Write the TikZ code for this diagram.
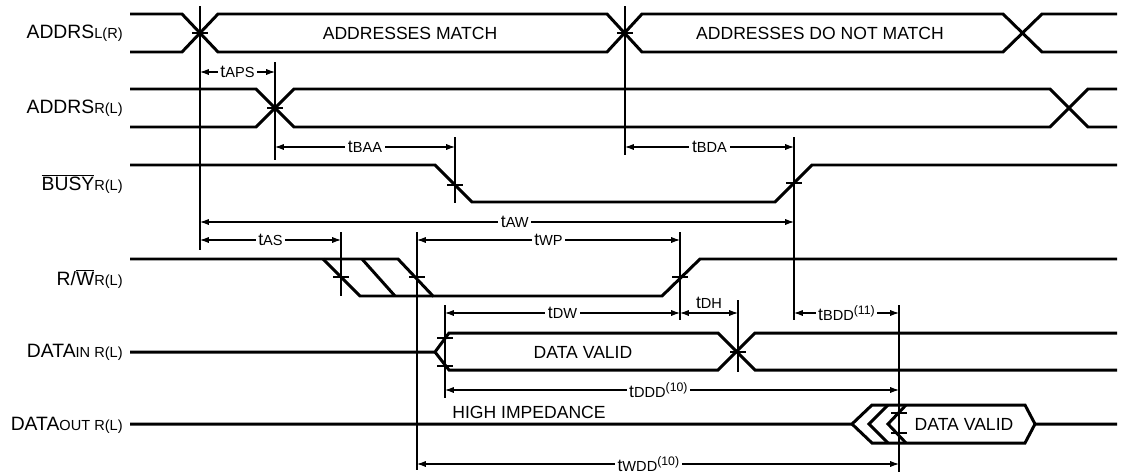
\documentclass[tikz,border=0pt]{standalone}
\usepackage{fontspec}
\setmainfont{Liberation Sans}
\usetikzlibrary{arrows.meta}
\newcommand{\smtxt}[1]{{\fontsize{8.3}{9}\selectfont #1}}
\newcommand{\tsub}[1]{{\fontsize{10}{11}\selectfont t}\smtxt{#1}}
\newcommand{\tsup}[1]{\raisebox{3.8pt}{\fontsize{7}{8}\selectfont #1}}
\tikzset{
  sig/.style={line width=1.7pt, line join=miter},
  guide/.style={line width=0.6pt},
  dim/.style={line width=0.6pt, {Latex[length=5pt,width=3.5pt]}-{Latex[length=5pt,width=3.5pt]}},
  tlab/.style={fill=white, inner sep=1.5pt},
  sname/.style={anchor=east, inner sep=0pt, font=\fontsize{11}{13}\selectfont},
  txt/.style={inner sep=0pt, font=\fontsize{10}{12}\selectfont},
}
\begin{document}
\begin{tikzpicture}[x=0.02cm, y=-0.02cm, line cap=butt]
\useasboundingbox (0,0) rectangle (1123,474);
% signal names
\node[sname] (nAddrL) at (123,33) {ADDRS\smtxt{L(R)}};
\node[sname] (nAddrR) at (123,108) {ADDRS\smtxt{R(L)}};
\node[sname] (nBusy) at (123,184) {$\overline{\hbox{BUSY}}$\smtxt{R(L)}};
\node[sname] (nRW) at (123,279) {R/$\overline{\hbox{W}}$\smtxt{R(L)}};
\node[sname] (nDin) at (123,352) {DATA\smtxt{IN R(L)}};
\node[sname] (nDout) at (123,425) {DATA\smtxt{OUT R(L)}};
% waveforms
\draw[sig] (130,14) -- (182,14) -- (218,52) -- (607,52) -- (642,14) -- (1003,14) -- (1042,52) -- (1117,52);
\draw[sig] (130,52) -- (182,52) -- (218,14) -- (607,14) -- (642,52) -- (1003,52) -- (1042,14) -- (1117,14);
\draw[sig] (130,89) -- (256,89) -- (294,127) -- (1050,127) -- (1088,89) -- (1117,89);
\draw[sig] (130,127) -- (256,127) -- (294,89) -- (1050,89) -- (1088,127) -- (1117,127);
\draw[sig] (130,165) -- (435,165) -- (472,202) -- (775,202) -- (812,165) -- (1117,165);
\draw[sig] (130,259) -- (398,259) -- (433,296) -- (662,296) -- (700,259) -- (1117,259);
\draw[sig] (323,259) -- (360,296) -- (433,296);
\draw[sig] (362,259) -- (395,296);
\draw[sig] (130,352) -- (435,352) -- (449,333) -- (718,333) -- (755,370) -- (1117,370);
\draw[sig] (435,352) -- (449,370) -- (718,370) -- (755,333) -- (1117,333);
\draw[sig] (130,424) -- (852,424) -- (872,405) -- (1025,405) -- (1035,424) -- (1117,424);
\draw[sig] (852,424) -- (872,443) -- (1025,443) -- (1035,424);
\draw[sig] (888,405) -- (869,424) -- (888,443);
\draw[sig] (906,405) -- (888,424) -- (906,443);
\node[txt] (vMatch) at (410,33) {ADDRESSES MATCH};
\node[txt] (vNoMatch) at (820,33) {ADDRESSES DO NOT MATCH};
\node[txt] (vDin) at (583,352) {DATA VALID};
\node[txt] (vDout) at (964,424) {DATA VALID};
\node[txt, anchor=west] (vHiZ) at (452,412) {HIGH IMPEDANCE};
% reference lines
\foreach \n/\x in {a/200,b/275,c/455,d/625,e/794,f/341,g/417,h/680,i/445,j/738,k/899}
  \coordinate (\n) at (\x,0);
\draw[guide] (a |- 0,6) -- (a |- 0,250);
\draw[guide] (b |- 0,62) -- (b |- 0,160);
\draw[guide] (c |- 0,137) -- (c |- 0,203);
\draw[guide] (d |- 0,6) -- (d |- 0,155);
\draw[guide] (e |- 0,137) -- (e |- 0,320);
\draw[guide] (f |- 0,232) -- (f |- 0,296);
\draw[guide] (g |- 0,232) -- (g |- 0,470);
\draw[guide] (h |- 0,232) -- (h |- 0,320);
\draw[guide] (i |- 0,305) -- (i |- 0,398);
\draw[guide] (j |- 0,300) -- (j |- 0,372);
\draw[guide] (k |- 0,305) -- (k |- 0,472);
\foreach \x/\y in {200/33, 625/33, 275/108, 455/185, 794/183, 341/277, 417/277, 680/277, 738/352, 445/338, 445/366, 899/413, 899/433}
  \draw[guide] (\x-8,\y) -- (\x+8,\y);
% timing parameters
\draw[dim] (a |- 0,72) -- node[tlab] (lAPS) {\tsub{APS}} (b |- 0,72);
\draw[dim] (b |- 0,147) -- node[tlab] (lBAA) {\tsub{BAA}} (c |- 0,147);
\draw[dim] (d |- 0,147) -- node[tlab] (lBDA) {\tsub{BDA}} (e |- 0,147);
\draw[dim] (a |- 0,222) -- node[tlab, pos=0.53] (lAW) {\tsub{AW}} (e |- 0,222);
\draw[dim] (a |- 0,240) -- node[tlab] (lAS) {\tsub{AS}} (f |- 0,240);
\draw[dim] (g |- 0,240) -- node[tlab] (lWP) {\tsub{WP}} (h |- 0,240);
\draw[dim] (i |- 0,313) -- node[tlab] (lDW) {\tsub{DW}} (h |- 0,313);
\draw[dim] (h |- 0,313) -- node[above=1pt, inner sep=1pt] (lDH) {\tsub{DH}} (j |- 0,313);
\draw[dim] (e |- 0,313) -- node[tlab] (lBDD) {\tsub{BDD}\tsup{(11)}} (k |- 0,313);
\draw[dim] (i |- 0,390) -- node[tlab, pos=0.47] (lDDD) {\tsub{DDD}\tsup{(10)}} (k |- 0,390);
\draw[dim] (g |- 0,464) -- node[tlab, pos=0.48] (lWDD) {\tsub{WDD}\tsup{(10)}} (k |- 0,464);
\end{tikzpicture}
\end{document}
